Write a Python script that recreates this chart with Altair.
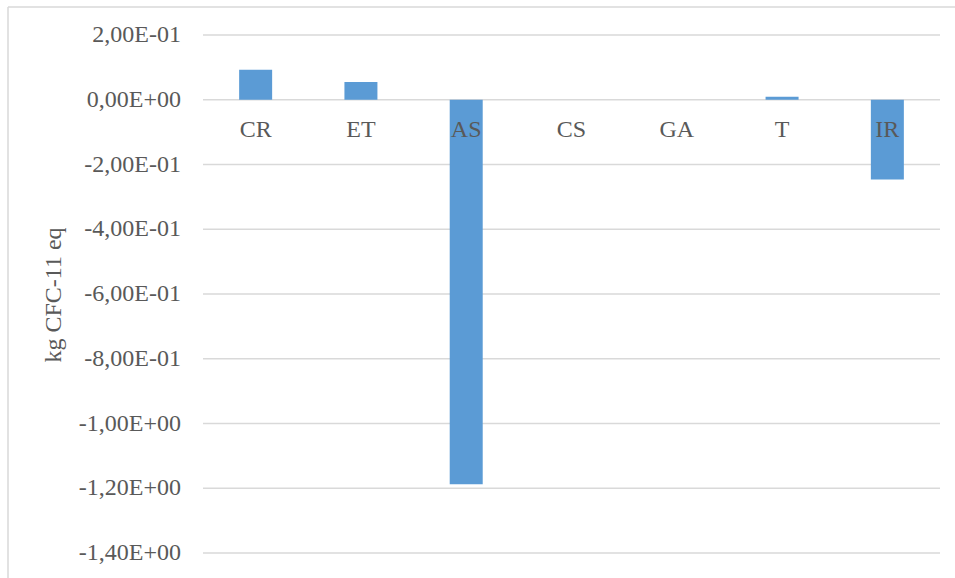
import altair as alt
import pandas as pd

categories = ["CR", "ET", "AS", "CS", "GA", "T", "IR"]
values = [0.093, 0.055, -1.188, 0.0, 0.0, 0.009, -0.246]
tick_values = [-1.4, -1.2, -1.0, -0.8, -0.6, -0.4, -0.2, 0.0, 0.2]
tick_labels = ["-1,40E+00", "-1,20E+00", "-1,00E+00", "-8,00E-01", "-6,00E-01",
               "-4,00E-01", "-2,00E-01", "0,00E+00", "2,00E-01"]
y_title = "kg CFC-11 eq"

df = pd.DataFrame({"cat": categories, "val": values, "zero": [0.0] * len(categories)})
ticks_df = pd.DataFrame({"v": tick_values, "lab": tick_labels})
title_df = pd.DataFrame({"t": [y_title]})

FONT = "Liberation Serif"
GRAY = "#595959"
GRID = "#d9d9d9"
FS = 24

W, H = 737, 518

xscale = alt.Scale(domain=categories, paddingInner=0, paddingOuter=0)
yscale = alt.Scale(domain=[-1.4, 0.2], nice=False, zero=False)

grid = alt.Chart(ticks_df).mark_rule(color=GRID, strokeWidth=1.5).encode(
    y=alt.Y("v:Q", scale=yscale, axis=None),
    x=alt.value(0), x2=alt.value(W),
)

ylabels = alt.Chart(ticks_df).mark_text(font=FONT, fontSize=FS, color=GRAY,
                                        align="right", baseline="middle").encode(
    y=alt.Y("v:Q", scale=yscale, axis=None),
    x=alt.value(-22),
    text="lab:N",
)

ytitle = alt.Chart(title_df).mark_text(font=FONT, fontSize=FS, color=GRAY,
                                       angle=270, align="center",
                                       baseline="middle").encode(
    x=alt.value(-149), y=alt.value(260), text="t:N",
)

bars = alt.Chart(df).mark_bar(size=33, color="#5B9BD5").encode(
    x=alt.X("cat:N", scale=xscale, sort=categories, axis=None),
    y=alt.Y("val:Q", scale=yscale, axis=None),
    y2=alt.Y2("zero:Q"),
)

labels = alt.Chart(df).mark_text(font=FONT, fontSize=FS, color=GRAY,
                                 baseline="alphabetic", dy=37).encode(
    x=alt.X("cat:N", scale=xscale, sort=categories, axis=None),
    y=alt.Y("zero:Q", scale=yscale, axis=None),
    text="cat:N",
)

frame_left = alt.Chart(title_df).mark_rule(color=GRID, strokeWidth=1.5).encode(
    x=alt.value(-195), y=alt.value(-28), y2=alt.value(H + 30))
frame_top = alt.Chart(title_df).mark_rule(color=GRID, strokeWidth=1.5).encode(
    x=alt.value(-195), x2=alt.value(W + 20), y=alt.value(-28))

chart = alt.layer(frame_left, frame_top, grid, ylabels, ytitle, bars, labels).properties(
    width=W, height=H,
    background="white",
    view=alt.ViewBackground(stroke="transparent", strokeWidth=0),
    autosize=alt.AutoSizeParams(type="none"),
    padding={"left": 203, "top": 35, "right": 15, "bottom": 25},
).configure_view(stroke="transparent", strokeWidth=0)

chart.save("out.html", embed_options={"renderer": "svg", "actions": False})
